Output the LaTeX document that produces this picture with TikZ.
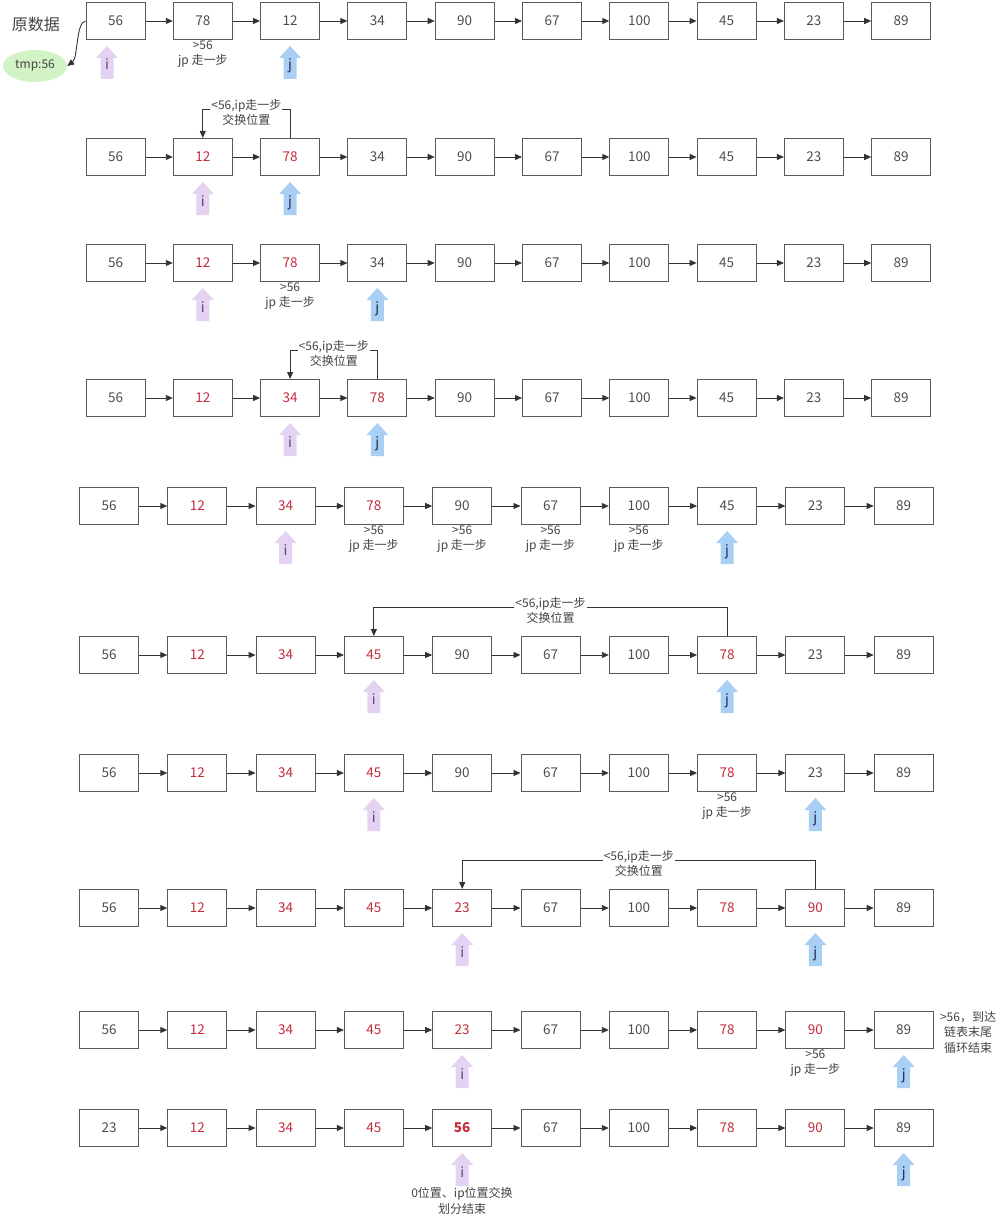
\documentclass[tikz,border=0pt]{standalone}
\usepackage{fontspec}
\setmainfont{Noto Sans CJK SC}
\usetikzlibrary{arrows.meta,shapes.geometric}
\definecolor{boxc}{HTML}{5A5A5A}
\definecolor{linec}{HTML}{333333}
\definecolor{numc}{HTML}{4D4D4D}
\definecolor{redc}{HTML}{C42B3C}
\definecolor{txtc}{HTML}{444444}
\definecolor{ifill}{HTML}{E3D2F2}
\definecolor{jfill}{HTML}{A9CFF4}
\definecolor{itxt}{HTML}{5A4A70}
\definecolor{jtxt}{HTML}{1E2F55}
\definecolor{tmpfill}{HTML}{D2F3C6}
\newcommand{\numfont}{\fontsize{13.5}{15}\selectfont}
\newcommand{\lblfont}{\fontsize{12}{15.5}\selectfont}
% #1 row id, #2 y, #3 x of first centre, #4 pitch, #5 list value/colour
\newcommand{\cellrow}[5]{%
  \foreach \v/\col [count=\k from 0] in {#5} {
    \node[cell, text=\col] (r#1c\k) at ({#3+\k*#4}, #2) {\v};
  }
  \foreach \k [evaluate=\k as \n using int(\k+1)] in {0,...,8} {
    \draw[link] (r#1c\k) -- (r#1c\n);
  }
}
% #1 name, #2 xshift, #3 cell, #4 fill, #5 text colour, #6 letter
\newcommand{\ptr}[6]{%
  \fill[#4] ([xshift=#2, yshift=-6]#3.south) -- ++(11,12) -- ++(-4.5,0) -- ++(0,21)
    -- ++(-13,0) -- ++(0,-21) -- ++(-4.5,0) -- cycle;
  \node[ptrtxt, text=#5, anchor=base] (#1) at ([xshift=#2, yshift=-30]#3.south) {#6};
}
\begin{document}
\begin{tikzpicture}[x=1pt,y=-1pt,
  cell/.style={draw=boxc, line width=1pt, minimum width=59, minimum height=37,
    inner sep=0, font=\numfont},
  link/.style={draw=linec, line width=0.9pt, -{Triangle[length=7,width=6]}},
  lbl/.style={font=\lblfont, text=txtc, align=center, inner sep=1},
  swaplbl/.style={lbl, fill=white, yshift=-3.5},
  ptrtxt/.style={font=\fontsize{14}{16}\selectfont, inner sep=0},
]
\useasboundingbox (0,0) rectangle (1007,1225);

\cellrow{1}{21}{115.5}{87.3}{56/numc,78/numc,12/numc,34/numc,90/numc,67/numc,100/numc,45/numc,23/numc,89/numc}
\cellrow{2}{157}{115.5}{87.3}{56/numc,12/redc,78/redc,34/numc,90/numc,67/numc,100/numc,45/numc,23/numc,89/numc}
\cellrow{3}{263}{115.5}{87.3}{56/numc,12/redc,78/redc,34/numc,90/numc,67/numc,100/numc,45/numc,23/numc,89/numc}
\cellrow{4}{398}{115.5}{87.3}{56/numc,12/redc,34/redc,78/redc,90/numc,67/numc,100/numc,45/numc,23/numc,89/numc}
\cellrow{5}{506}{109}{88.3}{56/numc,12/redc,34/redc,78/redc,90/numc,67/numc,100/numc,45/numc,23/numc,89/numc}
\cellrow{6}{655}{109}{88.3}{56/numc,12/redc,34/redc,45/redc,90/numc,67/numc,100/numc,78/redc,23/numc,89/numc}
\cellrow{7}{773}{109}{88.3}{56/numc,12/redc,34/redc,45/redc,90/numc,67/numc,100/numc,78/redc,23/numc,89/numc}
\cellrow{8}{908}{109}{88.3}{56/numc,12/redc,34/redc,45/redc,23/redc,67/numc,100/numc,78/redc,90/redc,89/numc}
\cellrow{9}{1030}{109}{88.3}{56/numc,12/redc,34/redc,45/redc,23/redc,67/numc,100/numc,78/redc,90/redc,89/numc}
\cellrow{10}{1128}{109}{88.3}{23/numc,12/redc,34/redc,45/redc,\textbf{56}/redc,67/numc,100/numc,78/redc,90/redc,89/numc}

% title and tmp
\node[font=\fontsize{16}{18}\selectfont, text=txtc] (title) at (36,24) {原数据};
\node[ellipse, fill=tmpfill, minimum width=64, minimum height=32, inner sep=0,
  font=\fontsize{12}{14}\selectfont, text=txtc] (tmp) at (35,66) {tmp:56};
\draw[link] (r1c0.west) .. controls (76,22) and (78,58) .. (tmp.east);

% pointers
\ptr{i1}{-8.5}{r1c0}{ifill}{itxt}{i}  \ptr{j1}{0}{r1c2}{jfill}{jtxt}{j}
\ptr{i2}{0}{r2c1}{ifill}{itxt}{i}     \ptr{j2}{0}{r2c2}{jfill}{jtxt}{j}
\ptr{i3}{0}{r3c1}{ifill}{itxt}{i}     \ptr{j3}{0}{r3c3}{jfill}{jtxt}{j}
\ptr{i4}{0}{r4c2}{ifill}{itxt}{i}     \ptr{j4}{0}{r4c3}{jfill}{jtxt}{j}
\ptr{i5}{0}{r5c2}{ifill}{itxt}{i}     \ptr{j5}{0}{r5c7}{jfill}{jtxt}{j}
\ptr{i6}{0}{r6c3}{ifill}{itxt}{i}     \ptr{j6}{0}{r6c7}{jfill}{jtxt}{j}
\ptr{i7}{0}{r7c3}{ifill}{itxt}{i}     \ptr{j7}{0}{r7c8}{jfill}{jtxt}{j}
\ptr{i8}{0}{r8c4}{ifill}{itxt}{i}     \ptr{j8}{0}{r8c8}{jfill}{jtxt}{j}
\ptr{i9}{0}{r9c4}{ifill}{itxt}{i}     \ptr{j9}{0}{r9c9}{jfill}{jtxt}{j}
\ptr{i10}{0}{r10c4}{ifill}{itxt}{i}   \ptr{j10}{0}{r10c9}{jfill}{jtxt}{j}

% "jp step" labels
\node[lbl, yshift=-14] (s1) at (r1c1.south) {>56\\jp 走一步};
\node[lbl, yshift=-14] (s3) at (r3c2.south) {>56\\jp 走一步};
\node[lbl, yshift=-14] (s5a) at (r5c3.south) {>56\\jp 走一步};
\node[lbl, yshift=-14] (s5b) at (r5c4.south) {>56\\jp 走一步};
\node[lbl, yshift=-14] (s5c) at (r5c5.south) {>56\\jp 走一步};
\node[lbl, yshift=-14] (s5d) at (r5c6.south) {>56\\jp 走一步};
\node[lbl, yshift=-14] (s7) at (r7c7.south) {>56\\jp 走一步};
\node[lbl, yshift=-14] (s9) at (r9c8.south) {>56\\jp 走一步};

% swap connectors
\draw[link] (r2c2.north) -- ++(0,-29) -| (r2c1.north)
  node[swaplbl, pos=0.25] (w2) {<56,ip走一步\\交换位置};
\draw[link] (r4c3.north) -- ++(0,-29) -| (r4c2.north)
  node[swaplbl, pos=0.25] (w4) {<56,ip走一步\\交换位置};
\draw[link] (r6c7.north) -- ++(0,-29) -| (r6c3.north)
  node[swaplbl, pos=0.25] (w6) {<56,ip走一步\\交换位置};
\draw[link] (r8c8.north) -- ++(0,-29) -| (r8c4.north)
  node[swaplbl, pos=0.25] (w8) {<56,ip走一步\\交换位置};

% notes
\node[lbl] (endnote) at (968,1032) {>56，到达\\链表末尾\\循环结束};
\node[lbl] (finalnote) at (462,1201) {0位置、ip位置交换\\划分结束};
\end{tikzpicture}
\end{document}
